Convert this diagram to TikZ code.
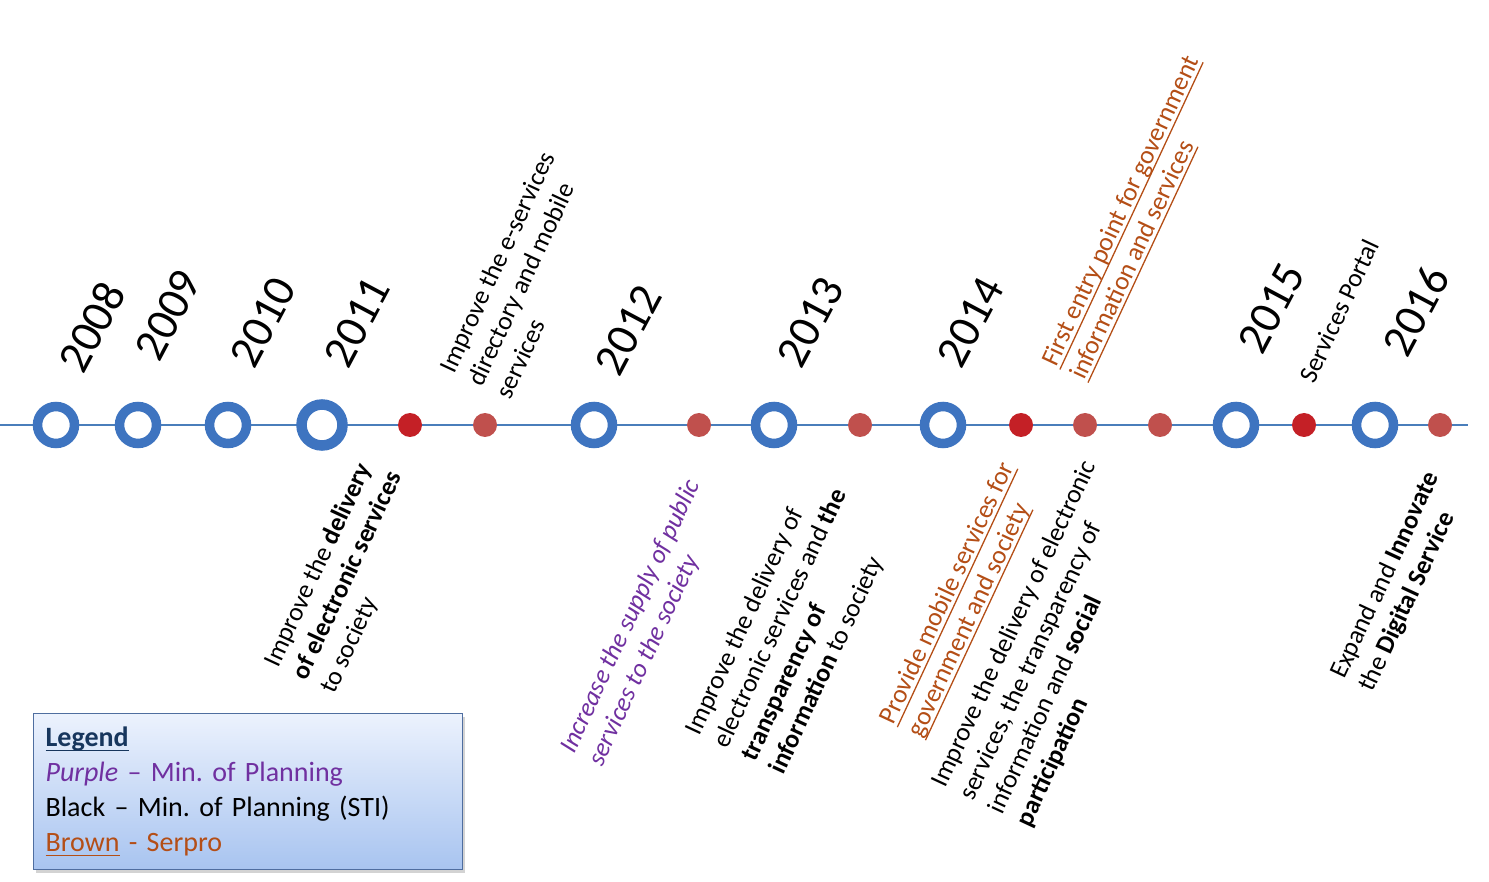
\documentclass[tikz,border=0pt]{standalone}
\usepackage{fontspec}
\setmainfont{Carlito}
\usepackage{xcolor}
\usetikzlibrary{shadows,positioning}

\definecolor{ringblue}{RGB}{62,116,192}
\definecolor{lineblue}{RGB}{74,126,187}
\definecolor{dotred}{RGB}{196,32,38}
\definecolor{softred}{RGB}{192,80,77}
\definecolor{planpurple}{RGB}{112,48,160}
\definecolor{serprobrown}{RGB}{180,78,22}
\definecolor{legnavy}{RGB}{23,54,93}
\definecolor{legborder}{RGB}{79,110,160}
\definecolor{legtop}{RGB}{236,242,253}
\definecolor{legbottom}{RGB}{168,196,240}

% thick underline, as in the slide
\newcommand{\markline}[1]{\setbox0\hbox{#1}\rlap{\raisebox{-4.5pt}{\rule{\wd0}{1.3pt}}}\box0\relax}
\frenchspacing

\begin{document}
\begin{tikzpicture}[x=1pt,y=-1pt,
  year/.style={rotate=62, inner sep=0pt, font=\fontsize{46}{50}\selectfont},
  note/.style={rotate=65, align=left, inner sep=0pt, font=\fontsize{26}{31}\selectfont},
  ring/.style={circle, draw=ringblue, line width=9.5pt, fill=white, minimum size=37pt, inner sep=0pt},
  bigring/.style={ring, line width=10.5pt, minimum size=41pt},
  dot/.style={circle, fill=dotred, minimum size=24pt, inner sep=0pt},
  softdot/.style={dot, fill=softred},
  legend/.style={rectangle, draw=legborder, line width=1.2pt, top color=legtop, bottom color=legbottom,
    minimum width=429pt, minimum height=156pt, text width=405pt, align=left,
    font=\fontsize{28}{35}\selectfont, drop shadow={opacity=0.35, shadow xshift=2pt, shadow yshift=-3pt}}]
\useasboundingbox (0,0) rectangle (1489,882);

% timeline axis
\coordinate (start) at (0,425);
\coordinate (stop) at (1468,425);
\draw[lineblue, line width=1.5pt] (start) -- (stop);

% years: rings on the axis
\foreach \x/\yr in {56/2008, 138/2009, 228/2010, 594/2012, 774/2013, 943/2014, 1236/2015, 1375/2016} {
    \node[ring] (r\yr) at (\x,425) {};
}
\node[bigring] (r2011) at (322,425) {};

% events: dots on the axis
\foreach \x/\name in {410/e1, 1021/e7, 1304/e10} {
    \node[dot] (\name) at (\x,425) {};
}
\foreach \x/\name in {485/e2, 699/e3, 860/e4, 1085/e8, 1160/e9, 1440/e11} {
    \node[softdot] (\name) at (\x,425) {};
}

% year labels
\foreach \x/\y/\yr in {92/327/2008, 168/315/2009, 263/322/2010, 357/322/2011, 628/330/2012,
    810/322/2013, 970/322/2014, 1271/308/2015, 1416/311/2016} {
    \node[year] (y\yr) at (\x,\y) {\yr};
}

% goals above the axis
\node[note] (eservices) at (525,275) {Improve the e-services\\ directory and mobile\\ services};
\node[note, text=serprobrown] (entry) at (1136,218)
    {\markline{First entry point for government}\\ \markline{information and services}};
\node[note] (portal) at (1339,311) {Services Portal};

% goals below the axis
\node[note] (delivery) at (348,576)
    {Improve the \textbf{delivery}\\ \textbf{of electronic services}\\ to society};
\node[note, text=planpurple, font=\fontsize{26}{31}\selectfont\itshape] (supply) at (645,623)
    {Increase the supply of public\\ services to the society};
\node[note] (transp) at (795,625)
    {Improve the delivery of\\ electronic services and \textbf{the}\\ \textbf{transparency of}\\ \textbf{information} to society};
\node[note, text=serprobrown] (mobile) at (962,600)
    {\markline{Provide mobile services for}\\ \markline{government and society}};
\node[note] (social) at (1057,644)
    {Improve the delivery of electronic\\ services, the transparency of\\ information and \textbf{social}\\ \textbf{participation}};
\node[note] (digital) at (1400,582)
    {Expand and \textbf{Innovate}\\ the \textbf{Digital Service}};

% legend
\node[legend, anchor=north west] (legbox) at (33,713)
    {\textcolor{legnavy}{\textbf{\markline{Legend}}}\\
     \textcolor{planpurple}{\textit{Purple} – Min. of Planning}\\
     Black – Min. of Planning (STI)\\
     \textcolor{serprobrown}{\markline{Brown} - Serpro}};
\end{tikzpicture}
\end{document}
